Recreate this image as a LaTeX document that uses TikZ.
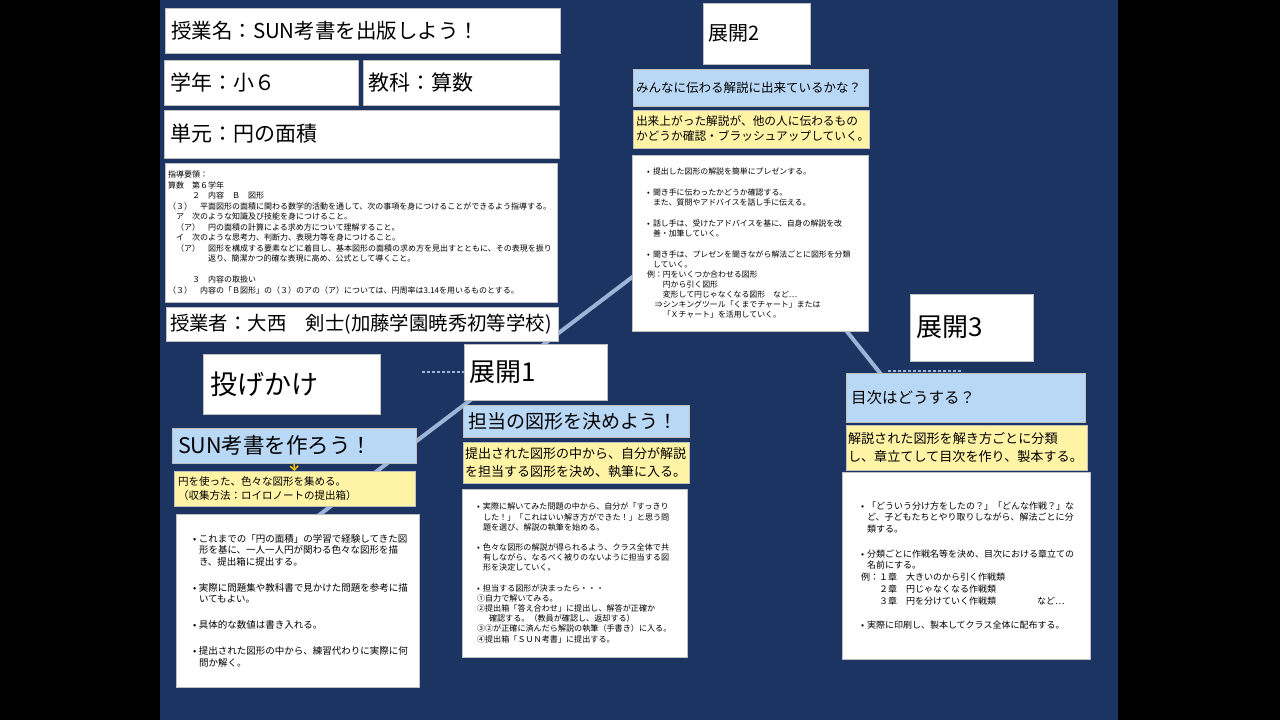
\documentclass[tikz,border=0pt]{standalone}
\usepackage{fontspec}
\setmainfont{Noto Sans CJK JP}
\usetikzlibrary{positioning,arrows.meta}
\definecolor{slide}{HTML}{1B3461}
\definecolor{qblue}{HTML}{B9D8F6}
\definecolor{nyellow}{HTML}{FFF3A5}
\definecolor{tline}{HTML}{9DB3D8}
\definecolor{chevron}{HTML}{F0C000}
\newcommand\fs[2]{\fontsize{#1}{#2}\selectfont}
\newcommand\bul{\makebox[6pt][l]{•}}
\newcommand\bin{\hspace*{6pt}}
\begin{document}
\begin{tikzpicture}[x=1pt,y=-1pt,
  panel/.style={draw=black!25,line width=0.5pt,anchor=north west,align=left,inner ysep=0pt,outer sep=0pt},
  wbox/.style={panel,fill=white},
  qbox/.style={panel,fill=qblue},
  nbox/.style={panel,fill=nyellow},
  timeline/.style={draw=tline,line width=4pt},
  dashlink/.style={draw=tline,line width=2pt,dash pattern=on 3pt off 2pt},
  chevarrow/.style={draw=chevron,line width=1.5pt,-{Straight Barb[length=4pt,width=8pt]}}]
\fill[black] (0,0) rectangle (1280,720);
\fill[slide] (160,0) rectangle (1118,720);
\coordinate (tlA) at (310,522);
\coordinate (tlB) at (739,196);
\coordinate (tlC) at (884,378);
\draw[timeline] (tlA) -- (tlB) -- (tlC);
% left column
\node[wbox,inner xsep=6pt,text width=383pt,minimum height=45pt,font=\fs{20.5}{24}] (kname) at (165,8) {授業名：SUN考書を出版しよう！};
\node[wbox,inner xsep=6pt,text width=182pt,minimum height=45pt,font=\fs{21}{24}] (kgrade) at (164,60) {学年：小６};
\node[wbox,inner xsep=5pt,text width=186pt,minimum height=45pt,font=\fs{21}{24}] (ksubj) at (363,60) {教科：算数};
\node[wbox,inner xsep=6pt,text width=383pt,minimum height=48pt,font=\fs{21}{24}] (kunit) at (164,110) {単元：円の面積};
\node[wbox,inner xsep=3pt,text width=386pt,minimum height=139pt,font=\fs{8}{10.5}] (kguide) at (165,163) {指導要領：\\
算数　第６学年\\
　　　２　内容　Ｂ　図形\\
（３）　平面図形の面積に関わる数学的活動を通して、次の事項を身につけることができるよう指導する。\\
　ア　次のような知識及び技能を身につけること。\\
　（ア）　円の面積の計算による求め方について理解すること。\\
　イ　次のような思考力、判断力、表現力等を身につけること。\\
　（ア）　図形を構成する要素などに着目し、基本図形の面積の求め方を見出すとともに、その表現を振り\\
　　　　　返り、簡潔かつ的確な表現に高め、公式として導くこと。\\[10.5pt]
　　　３　内容の取扱い\\
（３）　内容の「Ｂ図形」の（３）のアの（ア）については、円周率は3.14を用いるものとする。};
\node[wbox,inner xsep=4pt,text width=384pt,minimum height=34pt,font=\fs{19.4}{22}] (kteach) at (166,307) {授業者：大西　剣士(加藤学園暁秀初等学校)};
% 投げかけ
\node[wbox,inner xsep=7pt,text width=163pt,minimum height=60pt,font=\fs{27}{30}] (kake) at (203,354) {投げかけ};
\node[qbox,inner xsep=6pt,text width=232pt,minimum height=35pt,font=\fs{21.5}{24}] (q0) at (172,428) {SUN考書を作ろう！};
\node[nbox,inner xsep=4pt,text width=233pt,minimum height=35pt,font=\fs{10.5}{14}] (n0) at (174,471) {円を使った、色々な図形を集める。\\（収集方法：ロイロノートの提出箱）};
\node[wbox,inner xsep=17pt,text width=209pt,minimum height=173pt,font=\fs{9.5}{11.7}] (b0) at (176,514) {\bul これまでの「円の面積」の学習で経験してきた図\\
\bin 形を基に、一人一人円が関わる色々な図形を描\\
\bin き、提出箱に提出する。\\[14pt]
\bul 実際に問題集や教科書で見かけた問題を参考に描\\
\bin いてもよい。\\[14pt]
\bul 具体的な数値は書き入れる。\\[14pt]
\bul 提出された図形の中から、練習代わりに実際に何\\
\bin 問か解く。};
\draw[chevarrow] (q0.south) -- (n0.north);
% 展開1
\node[wbox,inner xsep=5pt,text width=133pt,minimum height=56pt,font=\fs{26}{30}] (ten1) at (464,344) {展開1};
\node[qbox,inner xsep=5pt,text width=216pt,minimum height=32pt,font=\fs{19}{22}] (q1) at (463,405) {担当の図形を決めよう！};
\node[nbox,inner xsep=2pt,text width=222pt,minimum height=41pt,font=\fs{13}{18}] (n1) at (463,442) {提出された図形の中から、自分が解説\\を担当する図形を決め、執筆に入る。};
\node[wbox,inner xsep=15pt,text width=195pt,minimum height=168pt,font=\fs{8.1}{10.2}] (b1) at (462,489) {\bul 実際に解いてみた問題の中から、自分が「すっきり\\
\bin した！」「これはいい解き方ができた！」と思う問\\
\bin 題を選び、解説の執筆を始める。\\[10pt]
\bul 色々な図形の解説が得られるよう、クラス全体で共\\
\bin 有しながら、なるべく被りのないように担当する図\\
\bin 形を決定していく。\\[10pt]
\bul 担当する図形が決まったら・・・\\
①自力で解いてみる。\\
②提出箱「答え合わせ」に提出し、解答が正確か\\
\hspace*{12pt}確認する。（教員が確認し、返却する）\\
③②が正確に済んだら解説の執筆（手書き）に入る。\\
④提出箱「ＳＵＮ考書」に提出する。};
\coordinate (dA) at (422,372);
\draw[dashlink] (dA) -- (ten1.west);
% 展開2
\node[wbox,inner xsep=5pt,text width=97pt,minimum height=61pt,font=\fs{20}{24}] (ten2) at (703,3) {展開2};
\node[qbox,inner xsep=3pt,text width=229pt,minimum height=37pt,font=\fs{12.5}{15}] (q2) at (633,69) {みんなに伝わる解説に出来ているかな？};
\node[nbox,inner xsep=3pt,text width=230pt,minimum height=38pt,font=\fs{11.7}{15}] (n2) at (633,110) {出来上がった解説が、他の人に伝わるもの\\かどうか確認・ブラッシュアップしていく。};
\node[wbox,inner xsep=15pt,text width=206pt,minimum height=176pt,font=\fs{7.9}{10}] (b2) at (632,155) {\bul 提出した図形の解説を簡単にプレゼンする。\\[11pt]
\bul 聞き手に伝わったかどうか確認する。\\
\bin また、質問やアドバイスを話し手に伝える。\\[11pt]
\bul 話し手は、受けたアドバイスを基に、自身の解説を改\\
\bin 善・加筆していく。\\[11pt]
\bul 聞き手は、プレゼンを聞きながら解法ごとに図形を分類\\
\bin していく。\\
例：円をいくつか合わせる図形\\
　　円から引く図形\\
　　変形して円じゃなくなる図形　など…\\
　⇒シンキングツール「くまでチャート」または\\
　　「Ｘチャート」を活用していく。};
% 展開3
\node[wbox,inner xsep=6pt,text width=111pt,minimum height=67pt,font=\fs{26}{30}] (ten3) at (910,294) {展開3};
\node[qbox,inner xsep=5pt,text width=229pt,minimum height=49pt,font=\fs{15.5}{18}] (q3) at (846,373) {目次はどうする？};
\node[nbox,inner xsep=2pt,text width=237pt,minimum height=45pt,font=\fs{13.1}{18}] (n3) at (846,425) {解説された図形を解き方ごとに分類\\し、章立てして目次を作り、製本する。};
\node[wbox,inner xsep=19pt,text width=210pt,minimum height=187pt,font=\fs{9}{11.7}] (b3) at (842,472) {\bul 「どういう分け方をしたの？」「どんな作戦？」な\\
\bin ど、子どもたちとやり取りしながら、解法ごとに分\\
\bin 類する。\\[13pt]
\bul 分類ごとに作戦名等を決め、目次における章立ての\\
\bin 名前にする。\\
例：１章　大きいのから引く作戦類\\
　　２章　円じゃなくなる作戦類\\
　　３章　円を分けていく作戦類\hspace*{41pt}など…\\[13pt]
\bul 実際に印刷し、製本してクラス全体に配布する。};
\coordinate (dB) at (888,371);
\coordinate (dC) at (963,371);
\draw[dashlink] (dB) -- (dC);
\end{tikzpicture}
\end{document}
